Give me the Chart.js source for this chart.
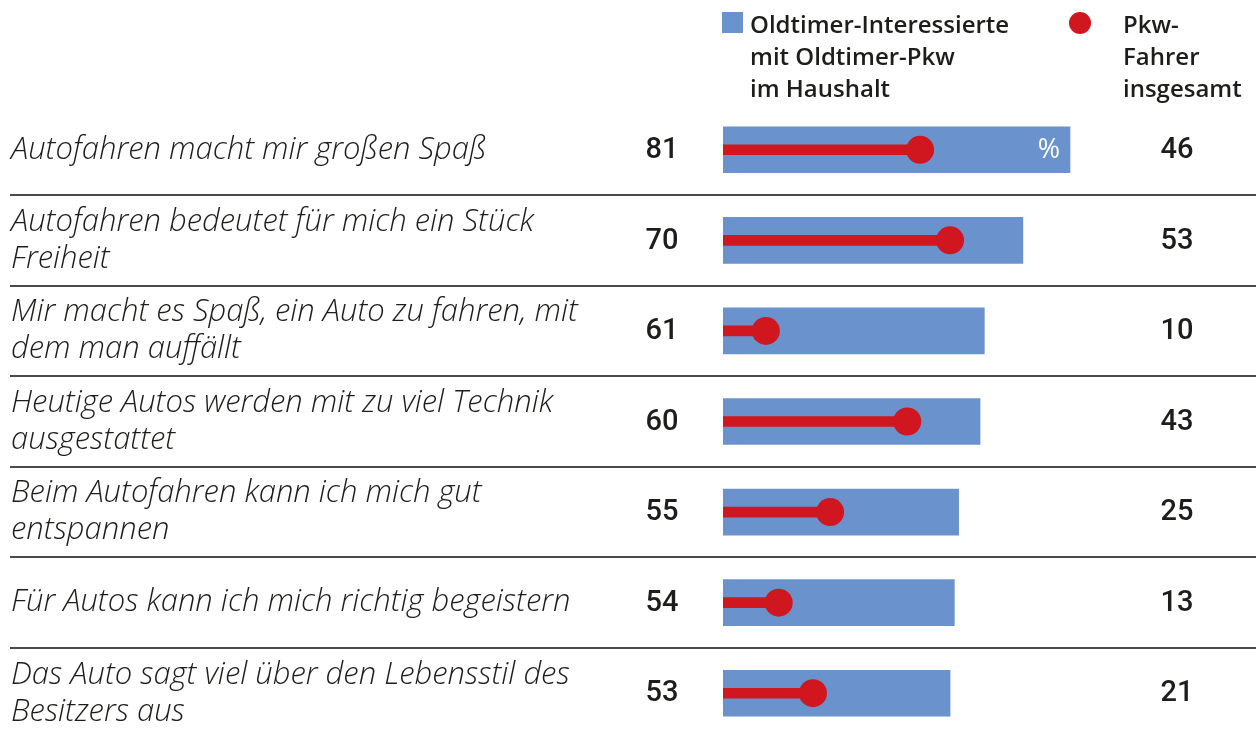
<!DOCTYPE html>
<html><head><meta charset="utf-8">
<script src="https://cdn.jsdelivr.net/npm/chart.js@4/dist/chart.umd.min.js"></script>
<style>
html,body{margin:0;padding:0;background:#fff;overflow:hidden;}
#wrap{position:relative;width:1256px;height:740px;}
</style></head><body>
<div id="wrap"><canvas id="c" width="1256" height="740"></canvas></div>
<script>
const categories = [
  ["Autofahren macht mir großen Spaß"],
  ["Autofahren bedeutet für mich ein Stück", "Freiheit"],
  ["Mir macht es Spaß, ein Auto zu fahren, mit", "dem man auffällt"],
  ["Heutige Autos werden mit zu viel Technik", "ausgestattet"],
  ["Beim Autofahren kann ich mich gut", "entspannen"],
  ["Für Autos kann ich mich richtig begeistern"],
  ["Das Auto sagt viel über den Lebensstil des", "Besitzers aus"]
];
const oldtimerValues = [81, 70, 61, 60, 55, 54, 53];
const pkwValues = [46, 53, 10, 43, 25, 13, 21];
const legendOldtimer = ["Oldtimer-Interessierte", "mit Oldtimer-Pkw", "im Haushalt"];
const legendPkw = ["Pkw-", "Fahrer", "insgesamt"];
const unitLabel = "%";

const BLUE = '#6a92cc', RED = '#d0161f', TEXT = '#1d1d1b';
const labelsIdx = categories.map((c, i) => i);

const overlay = {
  id: 'overlay',
  beforeDatasetsDraw(chart) {
    const ctx = chart.ctx, y = chart.scales.y;
    ctx.save();
    ctx.strokeStyle = '#4a4a4a';
    ctx.lineWidth = 2;
    for (let i = 0; i < categories.length - 1; i++) {
      const yy = Math.round((y.getPixelForValue(i) + y.getPixelForValue(i + 1)) / 2);
      ctx.beginPath(); ctx.moveTo(10, yy); ctx.lineTo(1256, yy); ctx.stroke();
    }
    ctx.restore();
  },
  afterDatasetsDraw(chart) {
    const ctx = chart.ctx, y = chart.scales.y;
    ctx.save();
    ctx.textBaseline = 'middle';
    categories.forEach((lines, i) => {
      const cy = y.getPixelForValue(i);
      ctx.font = 'italic 300 31px "Open Sans"';
      ctx.fillStyle = TEXT;
      ctx.textAlign = 'left';
      const lh = 37;
      lines.forEach((t, k) => {
        ctx.fillText(t, 11, cy + (k - (lines.length - 1) / 2) * lh);
      });
      ctx.font = '500 29px Roboto';
      ctx.textAlign = 'center';
      ctx.fillText(String(oldtimerValues[i]), 662, cy + 1);
      ctx.fillText(String(pkwValues[i]), 1177, cy + 1);
    });
    ctx.font = '400 27px "Open Sans"';
    ctx.fillStyle = '#ffffff';
    ctx.textAlign = 'center';
    ctx.fillText(unitLabel, 1049, y.getPixelForValue(0) + 1);
    ctx.fillStyle = BLUE;
    ctx.fillRect(722, 12, 21, 21);
    ctx.fillStyle = RED;
    ctx.beginPath(); ctx.arc(1080, 23, 11, 0, Math.PI * 2); ctx.fill();
    ctx.fillStyle = TEXT;
    ctx.font = '600 24px "Open Sans"';
    ctx.textAlign = 'left';
    ctx.textBaseline = 'alphabetic';
    legendOldtimer.forEach((t, k) => ctx.fillText(t, 750, 33 + k * 32));
    legendPkw.forEach((t, k) => ctx.fillText(t, 1123, 33 + k * 32));
    ctx.restore();
  }
};

new Chart(document.getElementById('c'), {
  type: 'bar',
  data: {
    labels: labelsIdx,
    datasets: [
      { type: 'line', data: pkwValues, showLine: false, pointRadius: 14, pointHoverRadius: 14,
        pointBackgroundColor: RED, pointBorderWidth: 0, borderColor: RED, order: 0 },
      { data: pkwValues, backgroundColor: RED, barThickness: 10, grouped: false, order: 1 },
      { data: oldtimerValues, backgroundColor: BLUE, barThickness: 46, grouped: false, order: 2 }
    ]
  },
  options: {
    indexAxis: 'y',
    responsive: false,
    animation: false,
    events: [],
    layout: { autoPadding: false, padding: { left: 723, right: 104.6, top: 104.5, bottom: 1.5 } },
    plugins: { legend: { display: false }, tooltip: { enabled: false } },
    scales: {
      x: { type: 'linear', min: 0, max: 100, display: false },
      y: { type: 'category', display: false, offset: true }
    }
  },
  plugins: [overlay]
});
</script>
</body></html>
